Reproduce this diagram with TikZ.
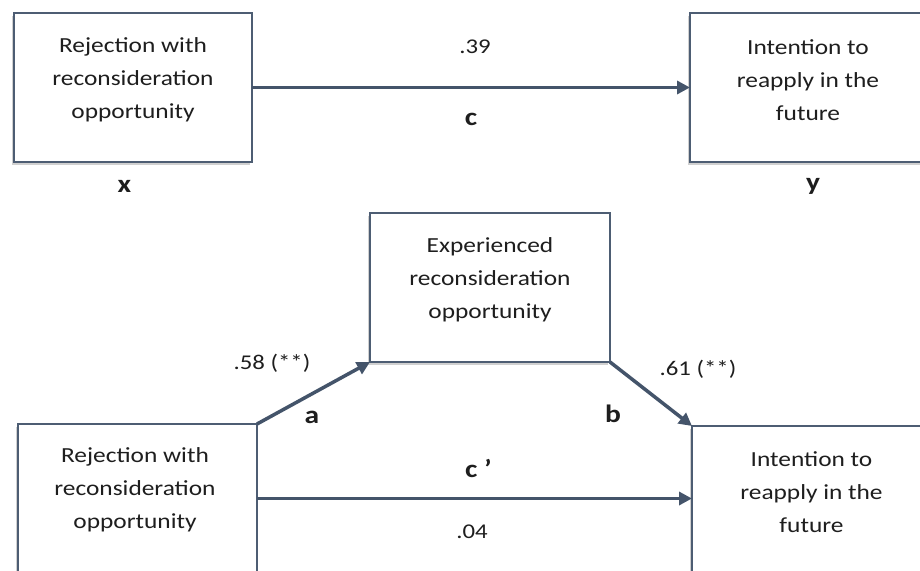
\documentclass[tikz,border=0pt]{standalone}
\usepackage{fontspec}
\setmainfont{Carlito}[FakeStretch=1.18]
\usetikzlibrary{arrows.meta,shadows}
\definecolor{edgecol}{HTML}{44546A}
\definecolor{boxcol}{HTML}{4D5D73}
\definecolor{txtcol}{HTML}{1E1E1E}
\tikzset{
  varbox/.style={draw=boxcol, line width=1.4pt, fill=white, rectangle,
    minimum width=238pt, minimum height=149pt, inner sep=0pt, outer sep=0pt,
    drop shadow={shadow xshift=-2.5pt, shadow yshift=-3pt, opacity=0.3, fill=black!60}},
  boxtext/.style={align=center, inner sep=0pt, text=txtcol,
    font=\fontsize{21.5}{33}\selectfont},
  lbl/.style={inner sep=0pt, text=txtcol, font=\fontsize{21}{25}\selectfont, anchor=base},
  blbl/.style={lbl, font=\fontsize{25}{28}\selectfont\bfseries},
  arr/.style={draw=edgecol, line width=3.5pt,
    -{Triangle[length=13pt,width=13pt]}}
}
\begin{document}
\begin{tikzpicture}[x=1pt,y=-1pt]
\useasboundingbox (0,0) rectangle (920,570);
\clip (0,0) rectangle (920,570);
\fill[white] (0,0) rectangle (920,570);
% boxes
\node[varbox] (topL) at (133,87.5) {};
\node[varbox] (topR) at (809,87.5) {};
\node[varbox, minimum width=240pt] (mid) at (490,287.5) {};
\node[varbox, minimum width=239pt] (botL) at (137.5,498.5) {};
\node[varbox] (botR) at (811,500.5) {};
% box texts
\node[boxtext] (topLt) at (133,80) {Rejection with\\reconsideration\\opportunity};
\node[boxtext] (topRt) at (808,80) {Intention to\\reapply in the\\future};
\node[boxtext] (midt) at (490,279.5) {Experienced\\reconsideration\\opportunity};
\node[boxtext] (botLt) at (135,490) {Rejection with\\reconsideration\\opportunity};
\node[boxtext] (botRt) at (811.5,492.5) {Intention to\\reapply in the\\future};
% connectors
\draw[arr] (topL.east) -- (topR.west);
\draw[arr] (botL.north east) -- (mid.south west);
\draw[arr] (mid.south east) -- (botR.north west);
\draw[arr] (botL.east) -- (botL.east -| botR.west);
% labels
\node[lbl] (l39) at (475,53) {.39};
\node[blbl] (lc) at (471,125) {c};
\node[blbl] (lx) at (124.5,192) {x};
\node[blbl] (ly) at (813,190) {y};
\node[lbl] (l58) at (272,369) {.58 (**)};
\node[blbl] (la) at (312,423) {a};
\node[lbl] (l61) at (698,375) {.61 (**)};
\node[blbl] (lb) at (613,422) {b};
\node[blbl, anchor=base west] (lcp) at (465,477) {c ’};
\node[lbl] (l04) at (472,538) {.04};
\end{tikzpicture}
\end{document}
